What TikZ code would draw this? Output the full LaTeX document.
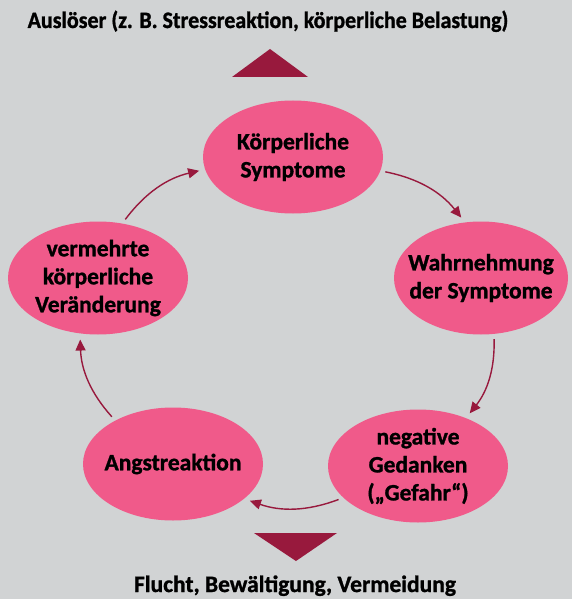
\documentclass[tikz,border=0pt]{standalone}
\usepackage{fontspec}
\setmainfont{Carlito}[BoldFeatures={FakeBold=1.2}]
\usepackage{graphicx}
\usepackage{tikz}
\usetikzlibrary{arrows.meta,shapes.geometric}
\definecolor{bgGray}{HTML}{D1D3D4}
\definecolor{symPink}{HTML}{F05A8A}
\definecolor{arrRed}{HTML}{98193D}

\begin{document}
\begin{tikzpicture}[x=1pt,y=-1pt,
  phase/.style={ellipse,fill=symPink,inner sep=-15pt,minimum width=180pt,minimum height=113pt,
    align=center,font=\fontsize{23.5}{28}\selectfont\bfseries},
  flow/.style={-{Triangle[length=11pt,width=10pt]},line width=1.4pt,arrRed,bend left=20,
    shorten <=5pt,shorten >=6pt},
  caption/.style={font=\fontsize{23.5}{28}\selectfont\bfseries}]
\fill[bgGray] (0,0) rectangle (572,599);
\useasboundingbox (0,0) rectangle (572,599);

% texts above and below
\node[caption,anchor=base] (trigger) at (268,28) {\scalebox{0.935}[1]{Auslöser (z. B. Stressreaktion, körperliche Belastung)}};
\node[caption,anchor=base] (outcome) at (295,592) {Flucht, Bewältigung, Vermeidung};
\fill[arrRed] (232,77) -- (308,77) -- (270,49) -- cycle;
\fill[arrRed] (254,533) -- (337,533) -- (296,561) -- cycle;

% the cycle
\node[phase] (body) at (293,157) {Körperliche\\Symptome};
\node[phase,minimum width=174pt] (notice) at (481,278) {Wahrnehmung\\der Symptome};
\node[phase] (thought) at (418,466) {negative\\Gedanken\\(„Gefahr“)};
\node[phase] (fear) at (173,464) {Angstreaktion};
\node[phase] (change) at (98,278) {vermehrte\\körperliche\\Veränderung};

\draw[flow] (body.-9) to (notice.106);
\draw[flow] (notice.-77) to (thought.45);
\draw[flow] (thought.203) to (fear.-26);
\draw[flow] (fear.143) to (change.252);
\draw[flow] (change.66) to (body.188);
\end{tikzpicture}
\end{document}
